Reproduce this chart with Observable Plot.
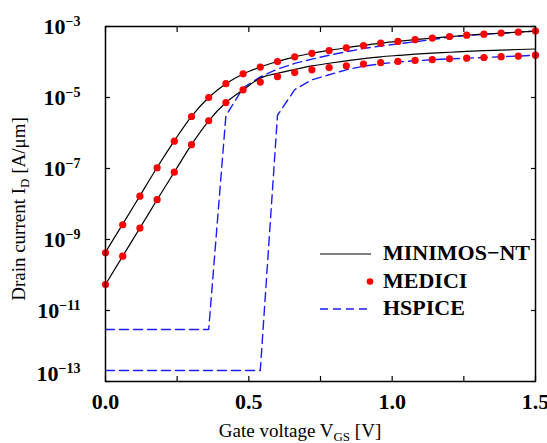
<!DOCTYPE html>
<html>
<head>
<meta charset="utf-8">
<script src="https://cdn.jsdelivr.net/npm/d3@7"></script>
<script src="https://cdn.jsdelivr.net/npm/@observablehq/plot@0.6"></script>
<style>
  html, body { margin: 0; padding: 0; background: #fff; }
  #chart { width: 547px; height: 443px; }
</style>
</head>
<body>
<div id="chart"></div>
<script>
// Gate voltage grid (V)
const vgs = [0.00, 0.06, 0.12, 0.18, 0.24, 0.30, 0.36, 0.42, 0.48, 0.54, 0.60, 0.66, 0.72,
             0.78, 0.84, 0.90, 0.96, 1.02, 1.08, 1.14, 1.20, 1.26, 1.32, 1.38, 1.44, 1.50];

// MEDICI (dots), drain current in A/um
const mediciA = [4.2e-10, 2.6e-9, 1.66e-8, 1.05e-7, 5.9e-7, 2.92e-6, 1.0e-5, 2.45e-5, 4.65e-5,
                 7.2e-5, 1.03e-4, 1.40e-4, 1.76e-4, 2.11e-4, 2.51e-4, 2.92e-4, 3.39e-4, 3.80e-4,
                 4.25e-4, 4.73e-4, 5.22e-4, 5.69e-4, 6.08e-4, 6.53e-4, 6.92e-4, 7.41e-4];
const mediciB = [5.4e-11, 3.4e-10, 2.1e-9, 1.32e-8, 7.9e-8, 4.7e-7, 2.21e-6, 7.2e-6, 1.65e-5,
                 2.72e-5, 3.86e-5, 5.04e-5, 6.03e-5, 6.95e-5, 7.8e-5, 8.75e-5, 9.6e-5, 1.035e-4,
                 1.11e-4, 1.16e-4, 1.225e-4, 1.28e-4, 1.34e-4, 1.41e-4, 1.47e-4, 1.56e-4];

// MINIMOS-NT (solid lines)
const minimosA = [4.4e-10, 2.7e-9, 1.7e-8, 1.07e-7, 6.0e-7, 2.95e-6, 1.0e-5, 2.45e-5, 4.6e-5,
                  7.2e-5, 1.03e-4, 1.40e-4, 1.76e-4, 2.12e-4, 2.52e-4, 2.93e-4, 3.39e-4, 3.80e-4,
                  4.25e-4, 4.72e-4, 5.20e-4, 5.67e-4, 6.08e-4, 6.52e-4, 6.92e-4, 7.41e-4];
const minimosB = [5.4e-11, 3.4e-10, 2.1e-9, 1.32e-8, 7.9e-8, 4.7e-7, 2.21e-6, 7.2e-6, 1.65e-5,
                  3.51e-5, 4.79e-5, 6.17e-5, 7.76e-5, 9.23e-5, 1.08e-4, 1.245e-4, 1.40e-4, 1.53e-4,
                  1.66e-4, 1.78e-4, 1.88e-4, 2.0e-4, 2.09e-4, 2.16e-4, 2.25e-4, 2.32e-4];

// HSPICE (dashed lines)
const hspiceA = [2.92e-12, 2.92e-12, 2.92e-12, 2.92e-12, 2.92e-12, 2.92e-12, 2.92e-12, 3.09e-6, 1.86e-5,
                 3.8e-5, 6.31e-5, 9.12e-5, 1.20e-4, 1.55e-4, 1.95e-4, 2.40e-4, 2.82e-4, 3.24e-4,
                 3.72e-4, 4.27e-4, 5.01e-4, 5.56e-4, 6.03e-4, 6.46e-4, 6.92e-4, 7.41e-4];
const hspiceB = [2.04e-13, 2.04e-13, 2.04e-13, 2.04e-13, 2.04e-13, 2.04e-13, 2.04e-13, 2.04e-13, 2.04e-13,
                 2.04e-13, 3.16e-6, 1.66e-5, 3.16e-5, 4.37e-5, 6.03e-5, 7.59e-5, 8.91e-5, 1.0e-4,
                 1.08e-4, 1.16e-4, 1.225e-4, 1.28e-4, 1.34e-4, 1.41e-4, 1.47e-4, 1.56e-4];

// Axis ticks
const xTickLabels = [0, 0.5, 1.0, 1.5];
const xTicks = [0, 0.25, 0.5, 0.75, 1.0, 1.25, 1.5];
const yTicks = [1e-13, 1e-11, 1e-9, 1e-7, 1e-5, 1e-3];

// Legend entries
const legendNames = ["MINIMOS\u2212NT", "MEDICI", "HSPICE"];

const toRows = (ys) => vgs.map((v, i) => ({v, i: ys[i]}));

const BLUE = "#1c1cff";
const FONT = "'Liberation Serif', 'Times New Roman', Times, serif";

const plot = Plot.plot({
  width: 547,
  height: 443,
  marginLeft: 105,
  marginRight: 12,
  marginTop: 26,
  marginBottom: 62,
  style: {fontFamily: FONT, background: "white", color: "black"},
  x: {domain: [0, 1.5]},
  y: {type: "log", domain: [1e-13, 1e-3]},
  marks: [
    Plot.axisX({ticks: xTickLabels, tickSize: 0, tickPadding: 12, tickFormat: d => d.toFixed(1),
                fontSize: 22, fontWeight: "bold", label: null}),
    Plot.axisX({ticks: xTicks, tickSize: -5, tickFormat: () => "", label: null, strokeWidth: 1.2}),
    Plot.axisX({anchor: "top", ticks: xTicks, tickSize: -5, tickFormat: () => "", label: null, strokeWidth: 1.2}),
    Plot.axisY({ticks: yTicks, tickSize: 0, tickPadding: 25,
                tickFormat: d => "10|" + Math.round(Math.log10(d)),
                fontSize: 22, fontWeight: "bold", label: null}),
    Plot.axisY({ticks: yTicks, tickSize: -5, tickFormat: () => "", label: null, strokeWidth: 1.2}),
    Plot.axisY({anchor: "right", ticks: yTicks, tickSize: -5, tickFormat: () => "", label: null, strokeWidth: 1.2}),
    Plot.line(toRows(hspiceA), {x: "v", y: "i", stroke: BLUE, strokeWidth: 1.4, strokeDasharray: "9,5"}),
    Plot.line(toRows(hspiceB), {x: "v", y: "i", stroke: BLUE, strokeWidth: 1.4, strokeDasharray: "9,5"}),
    Plot.line(toRows(minimosA), {x: "v", y: "i", stroke: "black", strokeWidth: 1.2, curve: "monotone-x"}),
    Plot.line(toRows(minimosB), {x: "v", y: "i", stroke: "black", strokeWidth: 1.2, curve: "monotone-x"}),
    Plot.dot(toRows(mediciA), {x: "v", y: "i", r: 3.6, fill: "#ff0000"}),
    Plot.dot(toRows(mediciB), {x: "v", y: "i", r: 3.6, fill: "#ff0000"}),
    Plot.frame({stroke: "black", strokeWidth: 1.5})
  ]
});

document.getElementById("chart").appendChild(plot);

const svg = d3.select(plot);

// Superscript tick labels on y axis
svg.selectAll('g[aria-label="y-axis tick label"] text').each(function () {
  const t = d3.select(this);
  const s = this.textContent;
  if (!s.includes("|")) return;
  const [base, exp] = s.split("|");
  this.textContent = "";
  t.append("tspan").text(base);
  t.append("tspan").attr("font-size", 14).attr("dy", -8)
    .text(exp.replace("-", "\u2212"));
  if (exp === "-13") t.attr("transform", (t.attr("transform") || "") + " translate(0,-8)");
});

// Axis titles
const xTitle = svg.append("text")
  .attr("x", 300).attr("y", 437)
  .attr("text-anchor", "middle")
  .attr("font-family", FONT).attr("font-size", 19).attr("fill", "black");
xTitle.append("tspan").text("Gate voltage V");
xTitle.append("tspan").attr("font-size", 13).attr("dy", 4).text("GS");
xTitle.append("tspan").attr("dy", -4).text(" [V]");

const yTitle = svg.append("text")
  .attr("transform", "translate(24.5,209) rotate(-90)")
  .attr("text-anchor", "middle")
  .attr("font-family", FONT).attr("font-size", 19).attr("fill", "black");
yTitle.append("tspan").text("Drain current I");
yTitle.append("tspan").attr("font-size", 13).attr("dy", 4).text("D");
yTitle.append("tspan").attr("dy", -4).text(" [A/\u03bcm]");

// Legend
const lg = svg.append("g").attr("font-family", FONT).attr("font-size", 22)
  .attr("font-weight", "bold").attr("text-anchor", "start");
lg.append("line").attr("x1", 320).attr("x2", 371).attr("y1", 254).attr("y2", 254)
  .attr("stroke", "black").attr("stroke-width", 1.2);
lg.append("circle").attr("cx", 370).attr("cy", 281.5).attr("r", 3.3).attr("fill", "#ff0000");
lg.append("line").attr("x1", 320).attr("x2", 371).attr("y1", 309).attr("y2", 309)
  .attr("stroke", BLUE).attr("stroke-width", 1.4).attr("stroke-dasharray", "8,5");
[260, 287.5, 315].forEach((y, k) => {
  lg.append("text").attr("x", 383).attr("y", y).attr("text-anchor", "start")
    .attr("fill", "black").text(legendNames[k]);
});
</script>
</body>
</html>
